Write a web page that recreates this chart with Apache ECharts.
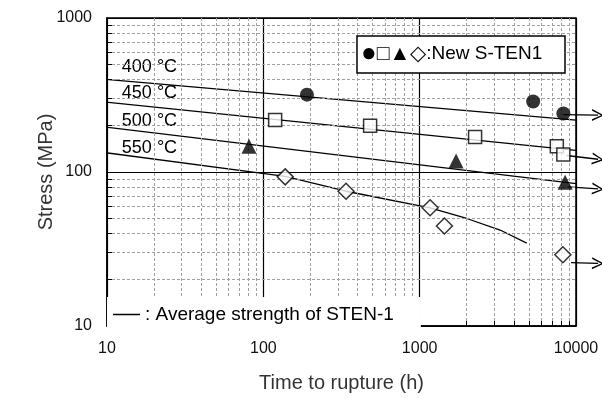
<!DOCTYPE html>
<html><head><meta charset="utf-8">
<script src="https://cdn.jsdelivr.net/npm/echarts@6/dist/echarts.min.js"></script>
<style>html,body{margin:0;padding:0;background:#fff}#c{width:602px;height:398px}</style>
</head><body><div id="c"></div>
<script>
// ---- data ----
const xTicks = [10, 100, 1000, 10000];
const yTicks = [10, 100, 1000];
const temps = ['400 °C', '450 °C', '500 °C', '550 °C'];
const labelOffsets = [[22, -21], [22, -17], [22, -14], [22, -13]];
// average strength of STEN-1 (lines)
const avg400 = [[9, 403], [10000, 217]];
const avg450 = [[9, 287], [10000, 138]];
const avg500 = [[9, 198], [10000, 84]];
const avg550 = [[9, 135], [138, 93.6], [338, 75], [1166, 58.4], [2000, 49.9], [3270, 42], [4840, 34.5]];
// New S-TEN1 test points
const new400 = [[190, 318], [5320, 287], [8300, 240]];
const new450 = [[119, 218], [482, 200], [2262, 169], [7540, 147], [8300, 130]];
const new500 = [[81, 147], [1710, 118], [8520, 85.7]];
const new550 = [[138, 93], [338, 75], [1166, 58.6], [1440, 44.6], [8240, 29]];
// run-out arrows (still running)
const runouts = [
  [[8300, 236], [13840, 234]],
  [[8700, 128], [13840, 121]],
  [[8900, 80], [13840, 77.6]],
  [[9300, 25.8], [13840, 25.5]]
];
const minorX = [20,30,40,50,60,70,80,90,200,300,400,500,600,700,800,900,2000,3000,4000,5000,6000,7000,8000,9000];
const minorY = [20,30,40,50,60,70,80,90,200,300,400,500,600,700,800,900];

const FONT = '"Liberation Sans", Arial, sans-serif';
const avgName = 'Average strength of STEN-1';
const chart = echarts.init(document.getElementById('c'));

const avgSets = [avg400, avg450, avg500, avg550];
const avgSeries = avgSets.map((d, i) => ({
  name: avgName, type: 'line', z: 3, clip: false,
  symbol: 'circle', symbolSize: 0, showSymbol: true,
  lineStyle: { color: '#000', width: 1.3 }, itemStyle: { color: '#000' },
  data: d.map((p, j) => j === 0 ? {
    value: p,
    label: { show: true, formatter: temps[i], position: labelOffsets[i],
      fontFamily: FONT, fontSize: 18, color: '#000' }
  } : { value: p }),
  silent: true, animation: false
}));

const tickLen = Math.pow(10, 5 / 156);
const gridMarks = [];
minorX.forEach(v => gridMarks.push({ xAxis: v }));
minorY.forEach(v => gridMarks.push({ yAxis: v }));
const tickMarks = [];
minorX.forEach(v => tickMarks.push([{ coord: [v, 10] }, { coord: [v, 10 * tickLen] }]));
minorY.forEach(v => tickMarks.push([{ coord: [10, v] }, { coord: [10 * tickLen, v] }]));

const scatterBase = { type: 'scatter', z: 5, silent: true, animation: false };

chart.setOption({
  animation: false,
  backgroundColor: '#fff',
  grid: { left: 107, right: 26, top: 18, bottom: 67, show: true, borderColor: '#000', borderWidth: 1.5, backgroundColor: 'transparent' },
  title: {
    text: '{c|●}{s|□▲◇}{t|:New S-TEN1}', left: 357, top: 38,
    padding: [5, 23, 6, 4], borderColor: '#000', borderWidth: 1.5, backgroundColor: '#fff',
    textStyle: { fontFamily: FONT, fontSize: 19, fontWeight: 'normal', color: '#000',
      rich: {
        c: { fontFamily: FONT, fontSize: 26, color: '#000', lineHeight: 22 },
        s: { fontFamily: FONT, fontSize: 21, color: '#000', lineHeight: 22 },
        t: { fontFamily: FONT, fontSize: 19, color: '#000', lineHeight: 22 }
      }
    }
  },
  legend: {
    data: [{ name: avgName, icon: 'rect' }], left: 107, top: 297, orient: 'horizontal',
    itemWidth: 27, itemHeight: 1.5, itemGap: 0, z: 10,
    padding: [8, 27, 7, 6], backgroundColor: '#fff',
    itemStyle: { color: '#000' },
    formatter: () => ': ' + avgName,
    textStyle: { fontFamily: FONT, fontSize: 19, color: '#000' },
    selectedMode: false
  },
  xAxis: {
    type: 'log', logBase: 10, min: xTicks[0], max: xTicks[xTicks.length - 1],
    name: 'Time to rupture (h)', nameLocation: 'middle', nameGap: 47, nameMoveOverlap: false,
    nameTextStyle: { fontFamily: FONT, fontSize: 20, color: '#333' },
    axisLine: { show: true, lineStyle: { color: '#000', width: 1.5 } },
    axisTick: { show: true, inside: true, length: 5, lineStyle: { color: '#000' } },
    axisLabel: { fontFamily: FONT, fontSize: 16, color: '#111', margin: 15, formatter: v => String(v) },
    splitLine: { show: true, lineStyle: { color: '#000', width: 1.2 } }
  },
  yAxis: {
    type: 'log', logBase: 10, min: yTicks[0], max: yTicks[yTicks.length - 1],
    name: 'Stress (MPa)', nameLocation: 'middle', nameGap: 51, nameMoveOverlap: false,
    nameTextStyle: { fontFamily: FONT, fontSize: 20, color: '#333' },
    axisLine: { show: true, lineStyle: { color: '#000', width: 1.5 } },
    axisTick: { show: true, inside: true, length: 5, lineStyle: { color: '#000' } },
    axisLabel: { fontFamily: FONT, fontSize: 16, color: '#111', margin: 15, formatter: v => String(v) },
    splitLine: { show: true, lineStyle: { color: '#000', width: 1.2 } }
  },
  series: [
    {
      name: 'grid', type: 'line', data: [], z: 1, silent: true, animation: false,
      markLine: {
        silent: true, animation: false, symbol: ['none', 'none'], label: { show: false },
        lineStyle: { color: '#a0a0a0', type: [3, 2], width: 1 },
        emphasis: { disabled: true },
        data: gridMarks
      }
    },
    {
      name: 'ticks', type: 'line', data: [], z: 2, silent: true, animation: false,
      markLine: {
        silent: true, animation: false, symbol: ['none', 'none'], label: { show: false },
        lineStyle: { color: '#000', type: 'solid', width: 1 },
        emphasis: { disabled: true },
        data: tickMarks
      }
    },
    ...avgSeries,
    {
      name: 'runout', type: 'lines', coordinateSystem: 'cartesian2d', z: 4, clip: false,
      silent: true, animation: false, polyline: false,
      symbol: ['none', 'path://M50,0 L100,100 L86,100 L50,24 L14,100 L0,100 Z'], symbolSize: 12,
      lineStyle: { color: '#000', width: 1.3, opacity: 1, curveness: 0 },
      effect: { show: false },
      data: runouts.map(r => ({ coords: r }))
    },
    Object.assign({ name: 'n400', data: new400, symbol: 'circle', symbolSize: 14,
      itemStyle: { color: '#000' } }, scatterBase),
    Object.assign({ name: 'n450', data: new450, symbol: 'rect', symbolSize: 13,
      itemStyle: { color: '#fff', borderColor: '#000', borderWidth: 1.5 } }, scatterBase),
    Object.assign({ name: 'n500', data: new500, symbol: 'triangle', symbolSize: 15,
      itemStyle: { color: '#000' } }, scatterBase),
    Object.assign({ name: 'n550', data: new550, symbol: 'diamond', symbolSize: 16,
      itemStyle: { color: '#fff', borderColor: '#000', borderWidth: 1.5 } }, scatterBase)
  ]
});
</script></body></html>
